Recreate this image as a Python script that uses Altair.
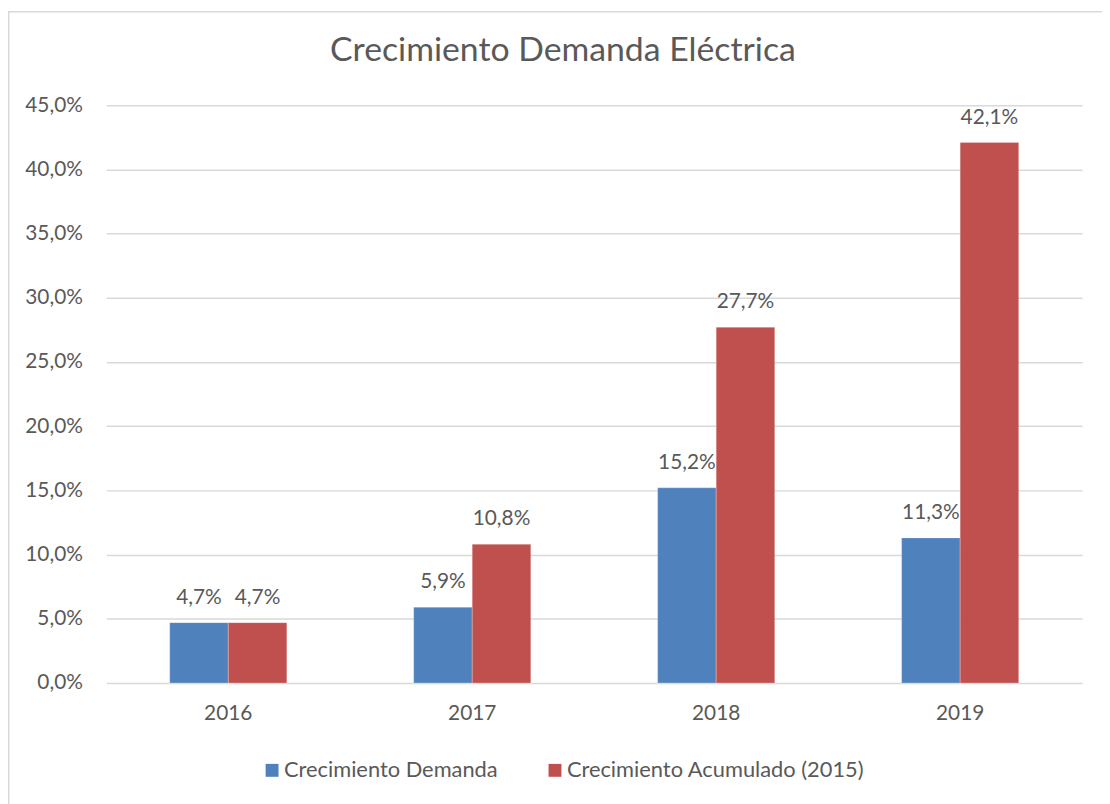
import altair as alt
import pandas as pd

years = ["2016", "2017", "2018", "2019"]
series_names = ["Crecimiento Demanda", "Crecimiento Acumulado (2015)"]
demanda = [0.047, 0.059, 0.152, 0.113]
acumulado = [0.047, 0.108, 0.277, 0.421]
y_ticks = [0.0, 0.05, 0.10, 0.15, 0.20, 0.25, 0.30, 0.35, 0.40, 0.45]
colors = ["#4F81BD", "#C0504D"]
title_text = "Crecimiento Demanda Eléctrica"

rows = []
for i, yr in enumerate(years):
    rows.append({"year": yr, "serie": series_names[0], "value": demanda[i]})
    rows.append({"year": yr, "serie": series_names[1], "value": acumulado[i]})
df = pd.DataFrame(rows)

FONT = "Lato"
TXT = "#595959"
FS = 21
W, H = 983, 582

x_enc = alt.X("year:N", sort=years, title=None,
              scale=alt.Scale(paddingInner=0.52, paddingOuter=0.26),
              axis=alt.Axis(labelAngle=0, ticks=False, domain=False, labelPadding=20,
                            labelFontSize=FS, labelColor=TXT, labelFont=FONT))
y_enc = alt.Y("value:Q", title=None,
              scale=alt.Scale(domain=[0, 0.45], nice=False),
              axis=alt.Axis(values=y_ticks, ticks=False, domain=False, labelPadding=24,
                            labelFontSize=FS, labelColor=TXT, labelFont=FONT,
                            gridColor="#d9d9d9", gridWidth=1.5,
                            labelExpr="replace(format(datum.value, '.1%'), '.', ',')"))
xoff = alt.XOffset("serie:N", sort=series_names, scale=alt.Scale(paddingInner=0, paddingOuter=0))

bars = alt.Chart(df).mark_bar(stroke="white", strokeWidth=0.5, strokeOpacity=0.5).encode(
    x=x_enc, y=y_enc, xOffset=xoff,
    color=alt.Color("serie:N", sort=series_names,
                    scale=alt.Scale(domain=series_names, range=colors),
                    legend=alt.Legend(title=None, orient="none", direction="horizontal",
                                      legendX=156, legendY=659, padding=0,
                                      symbolType="square",
                                      symbolSize=169, symbolStrokeWidth=0,
                                      labelFontSize=22, labelColor=TXT, labelFont=FONT,
                                      labelOffset=1, columnPadding=46, labelLimit=400)),
)

labels = alt.Chart(df).transform_calculate(
    lab="replace(format(datum.value, '.1%'), '.', ',')"
).mark_text(baseline="bottom", dy=-15, fontSize=FS, font=FONT, color=TXT).encode(
    x=alt.X("year:N", sort=years), y="value:Q", xOffset=xoff, text="lab:N"
)

border = alt.Chart(pd.DataFrame({"a": [0]})).mark_rect(
    filled=False, stroke="#d9d9d9", strokeWidth=1.5
).encode(
    x=alt.value(-98.25), x2=alt.value(W + 300), y=alt.value(-94.25), y2=alt.value(H + 300)
)

title = alt.Chart(pd.DataFrame({"t": [title_text]})).mark_text(
    fontSize=34, font=FONT, color=TXT, baseline="middle", align="center"
).encode(x=alt.value(460), y=alt.value(-55), text="t:N")

chart = alt.layer(border, bars, labels, title).properties(
    width=W, height=H,
    padding={"left": 99, "top": 95, "right": 20, "bottom": 119},
    autosize=alt.AutoSizeParams(type="none"),
).configure_view(stroke=None).configure_axis(grid=True).configure_axisX(grid=False)

chart.save("out.html", embed_options={"renderer": "svg", "actions": False})
